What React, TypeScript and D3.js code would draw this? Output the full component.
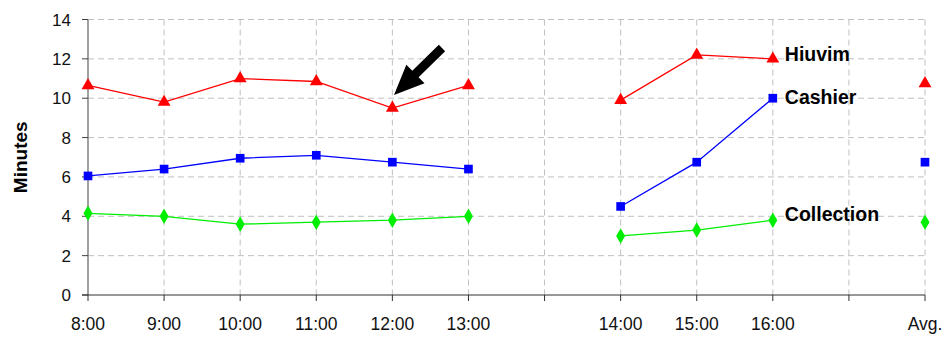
import React from "react";
import * as d3 from "d3";

const categories = ["8:00", "9:00", "10:00", "11:00", "12:00", "13:00", "", "14:00", "15:00", "16:00", "", "Avg."];
const hiuvim: (number | null)[] = [10.65, 9.8, 11.0, 10.85, 9.5, 10.65, null, 9.9, 12.2, 12.0, null, 10.75];
const cashier: (number | null)[] = [6.05, 6.4, 6.95, 7.1, 6.75, 6.4, null, 4.5, 6.75, 10.0, null, 6.75];
const collection: (number | null)[] = [4.15, 4.0, 3.6, 3.7, 3.8, 4.0, null, 3.0, 3.3, 3.8, null, 3.7];
const yTicks = [0, 2, 4, 6, 8, 10, 12, 14];

const W = 944, H = 337;
const left = 88, right = 925, top = 19.5, bottom = 295;
const FONT = "'Liberation Sans', Arial, sans-serif";

export default function App() {
  const x = d3.scalePoint<number>().domain(categories.map((_, i) => i)).range([left, right]);
  const y = d3.scaleLinear().domain([0, 14]).range([bottom, top]);

  const series = [
    { name: "Hiuvim", values: hiuvim, color: "#ff0000", shape: d3.symbolTriangle, size: 72, labelDy: 2 },
    { name: "Cashier", values: cashier, color: "#0000ff", shape: d3.symbolSquare, size: 75, labelDy: 6 },
    { name: "Collection", values: collection, color: "#00ee00", shape: d3.symbolDiamond, size: 70, labelDy: 1 },
  ];

  const line = (vals: (number | null)[]) =>
    d3.line<number | null>()
      .defined((d, i) => d !== null && i < 10)
      .x((_, i) => x(i)!)
      .y((d) => y(d as number))(vals) || "";

  // arrow
  const tail = [442, 48], tip = [394, 95];
  const dx = tip[0] - tail[0], dy = tip[1] - tail[1];
  const len = Math.hypot(dx, dy);
  const ux = dx / len, uy = dy / len, px = -uy, py = ux;
  const headLen = 30, headW = 13, shaftW = 4.5;
  const bx = tip[0] - ux * headLen, by = tip[1] - uy * headLen;
  const arrowPts = [
    [tail[0] + px * shaftW, tail[1] + py * shaftW],
    [bx + px * shaftW, by + py * shaftW],
    [bx + px * headW, by + py * headW],
    [tip[0], tip[1]],
    [bx - px * headW, by - py * headW],
    [bx - px * shaftW, by - py * shaftW],
    [tail[0] - px * shaftW, tail[1] - py * shaftW],
  ].map((p) => p.join(",")).join(" ");

  const last = 9;
  const labelX = x(last)! + 12;

  return (
    <svg width={W} height={H} style={{ position: "absolute", left: 0, top: 0, background: "#fff" }} fontFamily={FONT}>
      {/* gridlines */}
      {yTicks.filter((t) => t > 0).map((t) => (
        <line key={"gy" + t} x1={left} x2={right} y1={y(t)} y2={y(t)} stroke="#c0c0c0" strokeDasharray="6,4" />
      ))}
      {categories.map((_, i) => i > 0 && (
        <line key={"gx" + i} x1={x(i)} x2={x(i)} y1={top} y2={bottom} stroke="#c0c0c0" strokeDasharray="6,4" />
      ))}
      {/* axes */}
      <line x1={left} x2={left} y1={top} y2={bottom} stroke="#808080" strokeWidth={1.5} />
      {yTicks.map((t) => (
        <g key={"yt" + t}>
          <line x1={left - 6} x2={left} y1={y(t)} y2={y(t)} stroke="#404040" />
          <text x={71} y={y(t) + 6} textAnchor="end" fontSize={17} fill="#111">{t}</text>
        </g>
      ))}
      <line x1={left - 6} x2={right} y1={bottom} y2={bottom} stroke="#303030" strokeWidth={1.2} />
      {categories.map((c, i) => (
        <g key={"xt" + i}>
          <line x1={x(i)} x2={x(i)} y1={bottom} y2={bottom + 6} stroke="#303030" />
          <text x={x(i)} y={330} textAnchor="middle" fontSize={17.5} fill="#111">{c}</text>
        </g>
      ))}
      <text transform={`translate(27,${(top + bottom) / 2}) rotate(-90)`} textAnchor="middle" fontSize={19} fontWeight="bold" fill="#000">Minutes</text>
      {/* series */}
      {series.map((s) => (
        <g key={s.name}>
          <path d={line(s.values)} fill="none" stroke={s.color} strokeWidth={1.3} />
          {s.values.map((v, i) => v !== null && (
            <path key={i} transform={`translate(${x(i)},${y(v)})`} d={d3.symbol().type(s.shape).size(s.size)() || ""} fill={s.color} />
          ))}
          <text x={labelX} y={y(s.values[last] as number) + s.labelDy} fontSize={19.5} fontWeight="bold" fill="#000">{s.name}</text>
        </g>
      ))}
      <polygon points={arrowPts} fill="#000" />
    </svg>
  );
}
